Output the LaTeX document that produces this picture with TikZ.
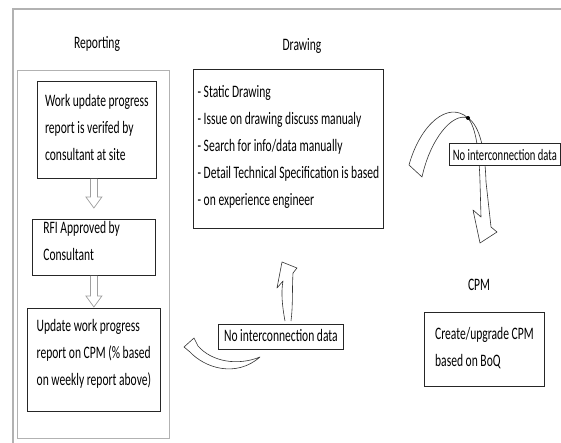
\documentclass[tikz,border=0pt]{standalone}
\usepackage{fontspec}
\setmainfont{Carlito}[FakeStretch=0.66]
\usetikzlibrary{calc}

% hollow down arrow from node #1 to node #2, tip #3 above #2
\newcommand{\hollowdown}[3]{%
    \coordinate (tip) at ($(#2.north)+(0,-#3)$);
    \draw[hollow] ($(tip |- #1.south)+(-3.5,0)$) -- ($(tip)+(-3.5,-11)$)
        -- ($(tip)+(-8,-11)$) -- (tip) -- ($(tip)+(8,-11)$)
        -- ($(tip)+(3.5,-11)$) -- ($(tip |- #1.south)+(3.5,0)$);
}

\begin{document}
\begin{tikzpicture}[
    x=1pt, y=-1pt,
    font=\fontsize{17.5}{27}\selectfont,
    frame/.style={draw=gray!60, line width=1.2pt},
    box/.style={draw=black!85, line width=0.8pt, anchor=north west,
                align=left, inner xsep=3pt, inner ysep=0pt},
    title/.style={anchor=base},
    note/.style={box, fill=white},
    hollow/.style={draw=gray!75, line width=0.7pt, fill=white},
    curvearrow/.style={draw=black!80, line width=0.6pt, fill=white,
                 line join=round}
]
    \useasboundingbox (0,0) rectangle (561,443);
    \draw[frame] (13,443) -- (13,9) -- (561,9);

    % Reporting column
    \node[title] (reptitle) at (97,49) {Reporting};
    \node[frame, anchor=north west, minimum width=152pt,
          minimum height=368pt] (rep) at (17,70) {};
    \node[box, minimum width=119pt, text height=79pt, text depth=18pt]
        (verify) at (37,81)
        {Work update progress\\report is verifed by\\consultant at site};
    \node[box, inner xsep=11pt, text height=41pt, text depth=15pt]
        (rfi) at (32,219) {\makebox[101pt][l]{RFI Approved by}\\Consultant};
    \node[box, minimum width=133pt, text height=77pt, text depth=26pt]
        (update) at (27,308)
        {Update work progress\\report on CPM (\% based\\on weekly report above)};
    \hollowdown{verify}{rfi}{11}
    \hollowdown{rfi}{update}{1}

    % Drawing
    \node[title] (drtitle) at (302,51) {Drawing};
    \node[box, minimum width=190pt, text height=136pt, text depth=23pt]
        (drawing) at (193,69)
        {- Static Drawing\\- Issue on drawing discuss manualy\\
         - Search for info/data manually\\
         - Detail Technical Specification is based\\
         - on experience engineer};

    % CPM
    \node[title] (cpmtitle) at (479,290) {CPM};
    \node[box, minimum width=120pt, text height=54pt, text depth=20pt]
        (cpm) at (424,312) {Create/upgrade CPM\\based on BoQ};

    % curved arrows
    \draw[curvearrow] (409,165) .. controls (420,125) and (448,100) .. (468,118)
        .. controls (476,128) and (479,150) .. (480,182)
        -- (481,217) -- (473,210) -- (480,243) -- (497,232) -- (491,227)
        -- (486,182) .. controls (485,150) and (480,126) .. (468,118)
        .. controls (452,112) and (430,140) .. (422,177) -- cycle;
    \fill (468,118) circle (2);
    \draw[curvearrow] (285,321) .. controls (282,305) and (281,292) .. (283,281)
        -- (277,288) -- (282,262) -- (297,268) -- (293,273)
        .. controls (292,290) and (293,306) .. (291,321);
    \draw[curvearrow] (260,357) .. controls (238,366) and (212,362) .. (198,346)
        -- (194,338) -- (184,347) -- (190,352)
        .. controls (205,368) and (236,378) .. (260,357) -- cycle;

    \node[note, font=\fontsize{16}{20}\selectfont, minimum width=111pt,
          text height=17pt, text depth=5pt] (gap1) at (449,143)
        {No interconnection data};
    \node[note, minimum width=125pt, text height=17pt, text depth=8pt]
        (gap2) at (218,324) {No interconnection data};
\end{tikzpicture}
\end{document}
